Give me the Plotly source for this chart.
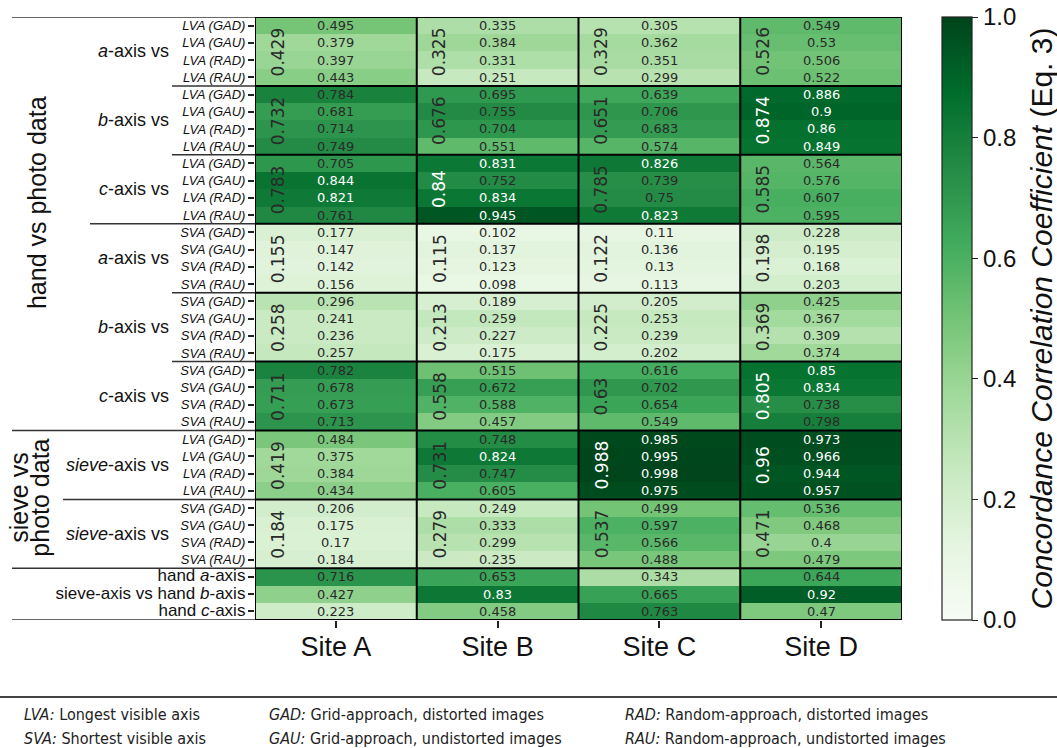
import plotly.graph_objects as go

# ---------------- data ----------------
sites = ["Site A", "Site B", "Site C", "Site D"]

big = '<span style="font-size:17px">{}</span>'
row_labels = (
    ["<i>LVA (GAD)</i>", "<i>LVA (GAU)</i>", "<i>LVA (RAD)</i>", "<i>LVA (RAU)</i>"] * 3
    + ["<i>SVA (GAD)</i>", "<i>SVA (GAU)</i>", "<i>SVA (RAD)</i>", "<i>SVA (RAU)</i>"] * 3
    + ["<i>LVA (GAD)</i>", "<i>LVA (GAU)</i>", "<i>LVA (RAD)</i>", "<i>LVA (RAU)</i>"]
    + ["<i>SVA (GAD)</i>", "<i>SVA (GAU)</i>", "<i>SVA (RAD)</i>", "<i>SVA (RAU)</i>"]
    + [big.format("hand <i>a</i>-axis"), big.format("sieve-axis vs hand <i>b</i>-axis"),
       big.format("hand <i>c</i>-axis")]
)

group_labels = ["<i>a</i>-axis vs", "<i>b</i>-axis vs", "<i>c</i>-axis vs",
                "<i>a</i>-axis vs", "<i>b</i>-axis vs", "<i>c</i>-axis vs",
                "<i>sieve</i>-axis vs", "<i>sieve</i>-axis vs"]

site_a = [0.495, 0.379, 0.397, 0.443, 0.784, 0.681, 0.714, 0.749, 0.705, 0.844, 0.821, 0.761,
          0.177, 0.147, 0.142, 0.156, 0.296, 0.241, 0.236, 0.257, 0.782, 0.678, 0.673, 0.713,
          0.484, 0.375, 0.384, 0.434, 0.206, 0.175, 0.17, 0.184, 0.716, 0.427, 0.223]
site_b = [0.335, 0.384, 0.331, 0.251, 0.695, 0.755, 0.704, 0.551, 0.831, 0.752, 0.834, 0.945,
          0.102, 0.137, 0.123, 0.098, 0.189, 0.259, 0.227, 0.175, 0.515, 0.672, 0.588, 0.457,
          0.748, 0.824, 0.747, 0.605, 0.249, 0.333, 0.299, 0.235, 0.653, 0.83, 0.458]
site_c = [0.305, 0.362, 0.351, 0.299, 0.639, 0.706, 0.683, 0.574, 0.826, 0.739, 0.75, 0.823,
          0.11, 0.136, 0.13, 0.113, 0.205, 0.253, 0.239, 0.202, 0.616, 0.702, 0.654, 0.549,
          0.985, 0.995, 0.998, 0.975, 0.499, 0.597, 0.566, 0.488, 0.343, 0.665, 0.763]
site_d = [0.549, 0.53, 0.506, 0.522, 0.886, 0.9, 0.86, 0.849, 0.564, 0.576, 0.607, 0.595,
          0.228, 0.195, 0.168, 0.203, 0.425, 0.367, 0.309, 0.374, 0.85, 0.834, 0.738, 0.798,
          0.973, 0.966, 0.944, 0.957, 0.536, 0.468, 0.4, 0.479, 0.644, 0.92, 0.47]

mean_a = [0.429, 0.732, 0.783, 0.155, 0.258, 0.711, 0.419, 0.184]
mean_b = [0.325, 0.676, 0.84, 0.115, 0.213, 0.558, 0.731, 0.279]
mean_c = [0.329, 0.651, 0.785, 0.122, 0.225, 0.63, 0.988, 0.537]
mean_d = [0.526, 0.874, 0.585, 0.198, 0.369, 0.805, 0.96, 0.471]

legend_col1 = ["<i>LVA:</i> Longest visible axis", "<i>SVA:</i> Shortest visible axis"]
legend_col2 = ["<i>GAD:</i> Grid-approach, distorted images", "<i>GAU:</i> Grid-approach, undistorted images"]
legend_col3 = ["<i>RAD:</i> Random-approach, distorted images", "<i>RAU:</i> Random-approach, undistorted images"]

# ---------------- layout geometry ----------------
W, H = 1057, 748
L, R, T, B = 255, 155, 17, 128
PW, PH = W - L - R, H - T - B


def px_x(px):
    return (px - L) / PW


def px_y(py):
    return (H - B - py) / PH


greens = [[0.0, "#f7fcf5"], [0.125, "#e5f5e0"], [0.25, "#c7e9c0"], [0.375, "#a1d99b"],
          [0.5, "#74c476"], [0.625, "#41ab5d"], [0.75, "#238b45"], [0.875, "#006d2c"],
          [1.0, "#00441b"]]

columns = [site_a, site_b, site_c, site_d]
means = [mean_a, mean_b, mean_c, mean_d]
nrows = len(site_a)
z = [[columns[c][r] for c in range(4)] for r in range(nrows)]

fig = go.Figure()
fig.add_trace(go.Heatmap(
    z=z, x=list(range(4)), y=list(range(nrows)),
    colorscale=greens, zmin=0, zmax=1, hoverinfo="skip",
    colorbar=dict(
        thickness=30, thicknessmode="pixels", len=PH, lenmode="pixels",
        x=px_x(942), xanchor="left", xpad=0, y=0.5, yanchor="middle", ypad=0,
        outlinewidth=1.2, outlinecolor="#222",
        ticks="outside", ticklen=6, tickwidth=1.2, tickcolor="#222",
        tickvals=[0, 0.2, 0.4, 0.6, 0.8, 1.0], tickformat=".1f",
        tickfont=dict(family="Liberation Sans, Arial", size=24, color="#111"),
    ),
))

annotations = []
# cell values
for c in range(4):
    for r in range(nrows):
        v = columns[c][r]
        annotations.append(dict(
            x=c, y=r, xref="x", yref="y", text=str(v), showarrow=False,
            font=dict(family="DejaVu Sans", size=13, color="white" if v > 0.8 else "#2a2a2a"),
        ))
    for g, m in enumerate(means[c]):
        annotations.append(dict(
            x=c - 0.358, y=g * 4 + 1.5, xref="x", yref="y", text=str(m), showarrow=False,
            textangle=-90,
            font=dict(family="DejaVu Sans", size=17, color="white" if m > 0.8 else "#2a2a2a"),
        ))

# group labels
for g, lab in enumerate(group_labels):
    annotations.append(dict(
        x=px_x(171), y=g * 4 + 1.5, xref="paper", yref="y", text=lab, showarrow=False,
        xanchor="right", yanchor="middle",
        font=dict(family="Liberation Sans, Arial", size=18, color="#111"),
    ))

big_font = dict(family="Liberation Sans, Arial", size=25, color="#111")
annotations.append(dict(
    x=px_x(37), y=10.3, xref="paper", yref="y", text="hand vs photo data", showarrow=False,
    textangle=-90, xanchor="center", yanchor="middle", font=big_font,
))
annotations.append(dict(
    x=px_x(19), y=27.4, xref="paper", yref="y", text="sieve vs", showarrow=False,
    textangle=-90, xanchor="center", yanchor="middle", font=big_font,
))
annotations.append(dict(
    x=px_x(40), y=27.4, xref="paper", yref="y", text="photo data", showarrow=False,
    textangle=-90, xanchor="center", yanchor="middle", font=big_font,
))

# colorbar title
annotations.append(dict(
    x=px_x(1041), y=0.5, xref="paper", yref="paper",
    text="<i>Concordance Correlation Coefficient</i> (Eq. 3)", showarrow=False,
    textangle=-90, xanchor="center", yanchor="middle",
    font=dict(family="Liberation Sans, Arial", size=30, color="#111"),
))

# footnote legend
leg_font = dict(family="Liberation Sans Narrow, DejaVu Sans Condensed, Arial Narrow", size=16, color="#222")
for col, xpx in ((legend_col1, 22), (legend_col2, 267), (legend_col3, 623)):
    for i, txt in enumerate(col):
        annotations.append(dict(
            x=px_x(xpx), y=px_y(714 + 24 * i), xref="paper", yref="paper", text=txt,
            showarrow=False, xanchor="left", yanchor="middle", font=leg_font,
        ))

shapes = []
# heatmap borders
for yb in [-0.5, 3.5, 7.5, 11.5, 15.5, 19.5, 23.5, 27.5, 31.5, 34.5]:
    shapes.append(dict(type="line", xref="x", yref="y", x0=-0.5, x1=3.5, y0=yb, y1=yb,
                       line=dict(color="black", width=2)))
for xb in [-0.5, 0.5, 1.5, 2.5, 3.5]:
    shapes.append(dict(type="line", xref="x", yref="y", x0=xb, x1=xb, y0=-0.5, y1=34.5,
                       line=dict(color="black", width=2)))
# label-area separator lines
for yb, xstart in [(-0.5, 12), (3.5, 172), (7.5, 172), (11.5, 90), (15.5, 172), (19.5, 172),
                   (23.5, 12), (27.5, 63), (31.5, 12), (34.5, 12)]:
    shapes.append(dict(type="line", xref="paper", yref="y", x0=px_x(xstart), x1=0, y0=yb, y1=yb,
                       line=dict(color="#333", width=1.5)))
# footnote separator
shapes.append(dict(type="line", xref="paper", yref="paper", x0=px_x(0), x1=px_x(W),
                   y0=px_y(697), y1=px_y(697), line=dict(color="#444", width=2)))

fig.update_layout(
    width=W, height=H,
    margin=dict(l=L, r=R, t=T, b=B, pad=0),
    paper_bgcolor="white", plot_bgcolor="white",
    annotations=annotations, shapes=shapes,
    xaxis=dict(
        range=[-0.5, 3.5], tickvals=list(range(4)), ticktext=sites,
        ticks="outside", ticklen=7, tickwidth=1.5, tickcolor="#222",
        ticklabelstandoff=-4,
        tickfont=dict(family="Liberation Sans, Arial", size=27, color="#111"),
        showgrid=False, zeroline=False, showline=False, fixedrange=True,
    ),
    yaxis=dict(
        range=[34.5, -0.5], tickvals=list(range(nrows)), ticktext=row_labels,
        ticks="outside", ticklen=6, tickwidth=1.5, tickcolor="#222",
        tickfont=dict(family="Liberation Sans, Arial", size=13, color="#111"),
        showgrid=False, zeroline=False, showline=False, fixedrange=True,
    ),
)

fig.write_html("out.html", config={"displayModeBar": False},
               post_script="document.body.style.margin='0';document.body.style.overflow='hidden';")
